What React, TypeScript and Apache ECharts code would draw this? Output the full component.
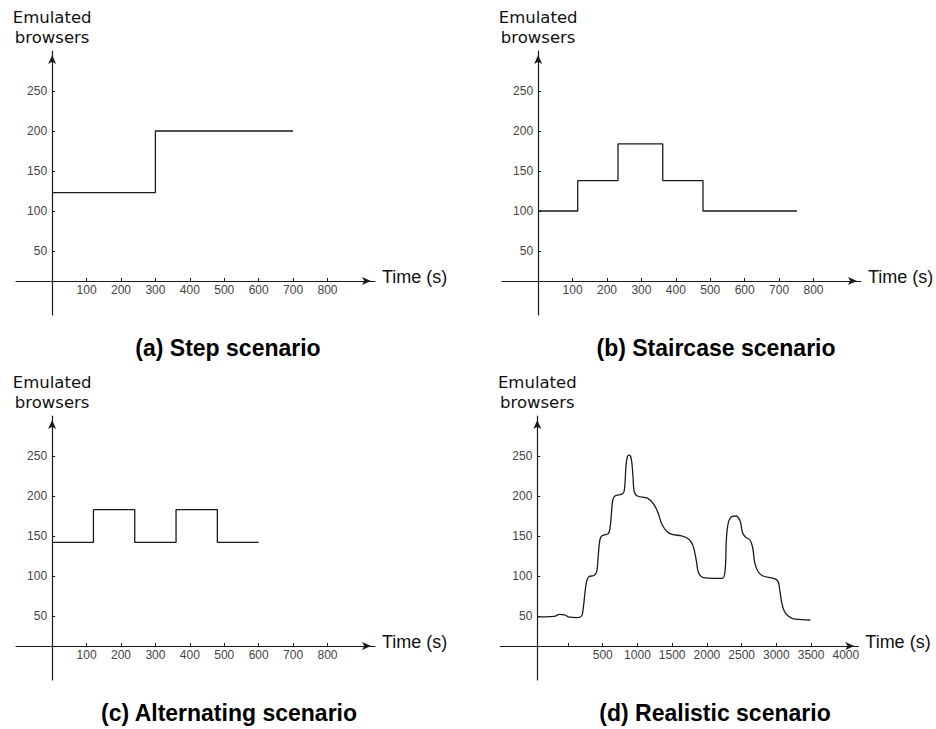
import React, { useEffect, useRef } from "react";
import * as echarts from "echarts";

// ---- data ----
const STEP_TIME = [0, 300, 700];
const STEP_USERS = [123, 200, 200];

const STAIR_TIME = [0, 115, 232, 362, 479, 752];
const STAIR_USERS = [100, 138, 184, 138, 100, 100];

const ALT_TIME = [0, 120, 240, 360, 480, 600];
const ALT_USERS = [142, 183, 142, 183, 142, 142];

const REAL_TIME = [
  -442, -330, -200, -120, -50, 20, 130, 195, 220, 245, 270, 300, 380, 415, 435, 455, 475, 510,
  580, 605, 625, 645, 675, 790, 815, 835, 855, 880, 910, 935, 955, 1000, 1150, 1240, 1300, 1350,
  1420, 1500, 1640, 1740, 1800, 1850, 1880, 1950, 2100, 2220, 2260, 2280, 2300, 2340, 2420, 2480,
  2510, 2550, 2620, 2660, 2690, 2740, 2810, 2960, 3020, 3045, 3075, 3110, 3170, 3270, 3490,
];
const REAL_USERS = [
  49, 49, 49.5, 52, 51.5, 48.5, 48, 50, 60, 80, 94, 99, 101, 106, 125, 143, 149, 151,
  153, 160, 178, 195, 200, 203, 210, 238, 249, 251, 247, 225, 205, 200, 197, 189, 178, 165,
  156, 152, 150, 146, 138, 118, 104, 98, 97, 97, 105, 145, 163, 173, 175, 168,
  155, 149, 145, 135, 116, 105, 100, 97, 94, 85, 68, 57, 50, 46, 45,
];

const Y_TICKS = [50, 100, 150, 200, 250];
const X_TICKS_SHORT = [100, 200, 300, 400, 500, 600, 700, 800];
const X_TICKS_REAL = [0, 500, 1000, 1500, 2000, 2500, 3000, 3500];
const X_LABELS_REAL = [500, 1000, 1500, 2000, 2500, 3000, 3500, 4000];

const TITLES = [
  "(a) Step scenario",
  "(b) Staircase scenario",
  "(c) Alternating scenario",
  "(d) Realistic scenario",
];
const Y_NAME = "Emulated\nbrowsers";
const X_NAME = "Time (s)";

export default function App() {
  const ref = useRef<HTMLDivElement>(null);

  useEffect(() => {
    document.body.style.margin = "0";
    const chart = echarts.init(ref.current!, null, { renderer: "svg" });

    const Y_MIN = -30;
    const Y_MAX = 300;
    const X_AXIS_AT = 12.5;

    const panels = [
      { left: 16, top: 51, width: 359, height: 264, xMin: -105, xMax: 938, yAxisAt: 0, ticks: X_TICKS_SHORT, labels: X_TICKS_SHORT },
      { left: 502, top: 51, width: 359, height: 264, xMin: -105, xMax: 938, yAxisAt: 0, ticks: X_TICKS_SHORT, labels: X_TICKS_SHORT },
      { left: 16, top: 416, width: 359, height: 264, xMin: -105, xMax: 938, yAxisAt: 0, ticks: X_TICKS_SHORT, labels: X_TICKS_SHORT },
      { left: 500.3, top: 416, width: 358, height: 264, xMin: -975, xMax: 4180, yAxisAt: -442, ticks: X_TICKS_REAL, labels: X_LABELS_REAL },
    ];

    const titlePos = [
      { x: 228, y: 336 },
      { x: 716, y: 336 },
      { x: 229, y: 701 },
      { x: 715, y: 701 },
    ];

    const lineColor = "#1a1a1a";
    const labelColor = "#444";
    const plain = (v: number) => String(v);

    const grids = panels.map((p) => ({ left: p.left, top: p.top, width: p.width, height: p.height }));

    const xAxes = panels.map((p, i) => ({
      type: "value",
      gridIndex: i,
      min: p.xMin,
      max: p.xMax,
      offset: -((X_AXIS_AT - Y_MIN) / (Y_MAX - Y_MIN)) * p.height,
      splitLine: { show: false },
      axisLine: {
        onZero: false,
        symbol: ["none", "arrow"],
        symbolSize: [6, 9],
        symbolOffset: [0, -4],
        lineStyle: { color: lineColor, width: 1.2 },
      },
      axisTick: { inside: true, length: 3, customValues: p.ticks, lineStyle: { color: lineColor, width: 1 } },
      axisLabel: {
        customValues: p.labels,
        formatter: plain,
        margin: 3,
        color: labelColor,
        fontSize: 12,
        fontFamily: "Arial, 'Liberation Sans', sans-serif",
      },
      name: X_NAME,
      nameLocation: "end",
      nameGap: 7,
      nameTextStyle: {
        color: "#111",
        fontSize: 18,
        fontFamily: "Arial, 'Liberation Sans', sans-serif",
        verticalAlign: "bottom",
        lineHeight: 8,
      },
    }));

    const yAxes = panels.map((p, i) => ({
      type: "value",
      gridIndex: i,
      min: Y_MIN,
      max: Y_MAX,
      offset: -((p.yAxisAt - p.xMin) / (p.xMax - p.xMin)) * p.width,
      splitLine: { show: false },
      axisLine: {
        onZero: false,
        symbol: ["none", "arrow"],
        symbolSize: [6, 9],
        symbolOffset: [0, -4],
        lineStyle: { color: lineColor, width: 1.2 },
      },
      axisTick: { inside: true, length: 3, customValues: Y_TICKS, lineStyle: { color: lineColor, width: 1 } },
      axisLabel: {
        customValues: Y_TICKS,
        formatter: plain,
        margin: 5,
        color: labelColor,
        fontSize: 12,
        fontFamily: "Arial, 'Liberation Sans', sans-serif",
      },
      name: Y_NAME,
      nameLocation: "end",
      nameGap: 4,
      nameTextStyle: {
        color: "#111",
        fontSize: 16.5,
        lineHeight: 20,
        align: "center",
        verticalAlign: "bottom",
        fontFamily: "'DejaVu Sans', sans-serif",
      },
    }));

    const mk = (xs: number[], ys: number[]) => xs.map((x, k) => [x, ys[k]]);

    const baseLine = { color: lineColor, width: 1.3 };

    const series = [
      { type: "line", xAxisIndex: 0, yAxisIndex: 0, step: "end", data: mk(STEP_TIME, STEP_USERS) },
      { type: "line", xAxisIndex: 1, yAxisIndex: 1, step: "end", data: mk(STAIR_TIME, STAIR_USERS) },
      { type: "line", xAxisIndex: 2, yAxisIndex: 2, step: "end", data: mk(ALT_TIME, ALT_USERS) },
      { type: "line", xAxisIndex: 3, yAxisIndex: 3, smooth: 0.4, data: mk(REAL_TIME, REAL_USERS) },
    ].map((s) => ({ ...s, showSymbol: false, symbol: "none", lineStyle: baseLine, silent: true }));

    const titles = TITLES.map((t, i) => ({
      text: t,
      left: titlePos[i].x,
      top: titlePos[i].y,
      textAlign: "center",
      padding: 0,
      textStyle: {
        color: "#000",
        fontSize: 23,
        fontWeight: "bold",
        fontFamily: "Arial, 'Liberation Sans', sans-serif",
      },
    }));

    chart.setOption({
      animation: false,
      backgroundColor: "#fff",
      title: titles,
      grid: grids,
      xAxis: xAxes,
      yAxis: yAxes,
      series,
    });

    return () => chart.dispose();
  }, []);

  return <div ref={ref} style={{ width: 936, height: 729 }} />;
}
